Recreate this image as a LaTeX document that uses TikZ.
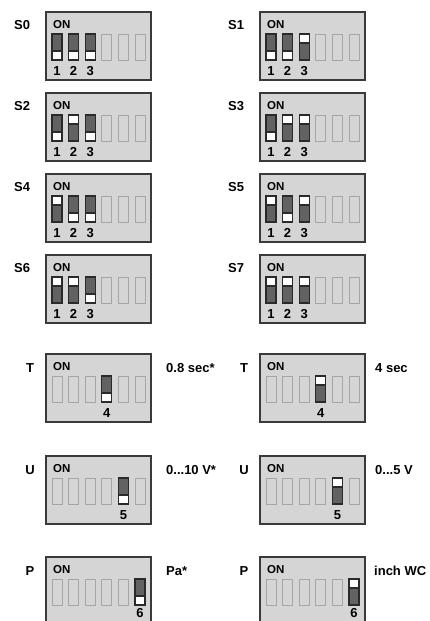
\documentclass[tikz,border=0pt]{standalone}
\usepackage{fontspec}
\setmainfont{Liberation Sans}

\definecolor{boxgray}{HTML}{D5D5D5}
\definecolor{boxedge}{HTML}{3A3A3A}
\definecolor{slotedge}{HTML}{A6A6A6}
\definecolor{knobgray}{HTML}{626262}
\definecolor{knobedge}{HTML}{2A2A2A}

\begin{document}
\begin{tikzpicture}[x=1pt, y=-1pt,
    dipbox/.style={draw=boxedge, fill=boxgray, line width=1.5pt, minimum width=105pt, minimum height=68pt, inner sep=0pt, outer sep=0pt, anchor=north west},
    slot/.style={draw=slotedge, line width=0.9pt, minimum width=10pt, minimum height=26pt, inner sep=0pt, outer sep=0pt, anchor=north west},
    knob/.style={slot, draw=knobedge, fill=knobgray, line width=1.1pt},
    knobend/.style={draw=knobedge, fill=white, line width=1.1pt, minimum width=10pt, minimum height=9pt, inner sep=0pt, outer sep=0pt},
    lbl/.style={font=\bfseries\fontsize{13}{15}\selectfont, inner sep=0pt},
    onlbl/.style={font=\bfseries\fontsize{11.5}{13}\selectfont, inner sep=0pt, anchor=base west},
    numlbl/.style={font=\bfseries\fontsize{13}{15}\selectfont, inner sep=0pt, anchor=base}]

    % Fix the page to the size of the reference
    \useasboundingbox (0,0) rectangle (429,621);

    % Baseline of the slot numbers below the top of a block
    \def\numy{63}

    % One DIP switch block: name, left x, top y, states of the six slots
    % (0 = no lever, 1 = lever off, white end down, 2 = lever on, white end up)
    \def\dipswitch#1#2#3#4{%
        \node[dipbox] (#1) at (#2,#3) {};
        \node[onlbl] (#1on) at (#2+7,#3+16.5) {ON};
        \foreach \s [count=\i] in {#4} {
            \pgfmathsetmacro\sx{#2+6+(\i-1)*16.6}
            \ifnum\s=0
                \node[slot] (#1s\i) at (\sx,#3+22) {};
            \else
                \node[knob] (#1s\i) at (\sx,#3+22) {};
                \ifnum\s=1
                    \node[knobend, anchor=south] (#1k\i) at (#1s\i.south) {};  % lever off
                \else
                    \node[knobend, anchor=north] (#1k\i) at (#1s\i.north) {};  % lever on
                \fi
                \node[numlbl] (#1n\i) at (\sx+5,#3+\numy) {\i};
            \fi
        }
    }

    % Eight addresses S0 ... S7 on switches 1-3
    \dipswitch{s0}{46}{12}{1,1,1,0,0,0}
    \dipswitch{s1}{260}{12}{1,1,2,0,0,0}
    \dipswitch{s2}{46}{93}{1,2,1,0,0,0}
    \dipswitch{s3}{260}{93}{1,2,2,0,0,0}
    \dipswitch{s4}{46}{174}{2,1,1,0,0,0}
    \dipswitch{s5}{260}{174}{2,1,2,0,0,0}
    \dipswitch{s6}{46}{255}{2,2,1,0,0,0}
    \dipswitch{s7}{260}{255}{2,2,2,0,0,0}

    % Address labels
    \foreach \n/\x/\y in {0/14/29.5, 1/228/29.5, 2/14/110.5, 3/228/110.5, 4/14/191.5, 5/228/191.5, 6/14/272.5, 7/228/272.5} {
        \node[lbl, anchor=base west] (lbls\n) at (\x,\y) {S\n};
    }

    % Switch 4: time, switch 5: output, switch 6: unit
    \dipswitch{tl}{46}{354}{0,0,0,1,0,0}
    \dipswitch{tr}{260}{354}{0,0,0,2,0,0}
    \dipswitch{ul}{46}{456}{0,0,0,0,1,0}
    \dipswitch{ur}{260}{456}{0,0,0,0,2,0}
    \def\numy{60}  % last row is cut by the page edge
    \dipswitch{pl}{46}{557}{0,0,0,0,0,1}
    \dipswitch{pr}{260}{557}{0,0,0,0,0,2}

    % Function letters on the left of the blocks
    \node[lbl, anchor=base] (lbltl) at (30,372.5) {T};
    \node[lbl, anchor=base] (lbltr) at (244,372.5) {T};
    \node[lbl, anchor=base] (lblul) at (30,474) {U};
    \node[lbl, anchor=base] (lblur) at (244,474) {U};
    \node[lbl, anchor=base] (lblpl) at (30,575) {P};
    \node[lbl, anchor=base] (lblpr) at (244,575) {P};

    % Settings on the right of the blocks
    \node[lbl, anchor=base west] (valtl) at (166,372.5) {0.8 sec*};
    \node[lbl, anchor=base west] (valtr) at (375,372.5) {4 sec};
    \node[lbl, anchor=base west] (valul) at (166,474) {0...10 V*};
    \node[lbl, anchor=base west] (valur) at (375,474) {0...5 V};
    \node[lbl, anchor=base west] (valpl) at (166,575) {Pa*};
    \node[lbl, anchor=base west] (valpr) at (374,575) {inch WC};

\end{tikzpicture}
\end{document}
